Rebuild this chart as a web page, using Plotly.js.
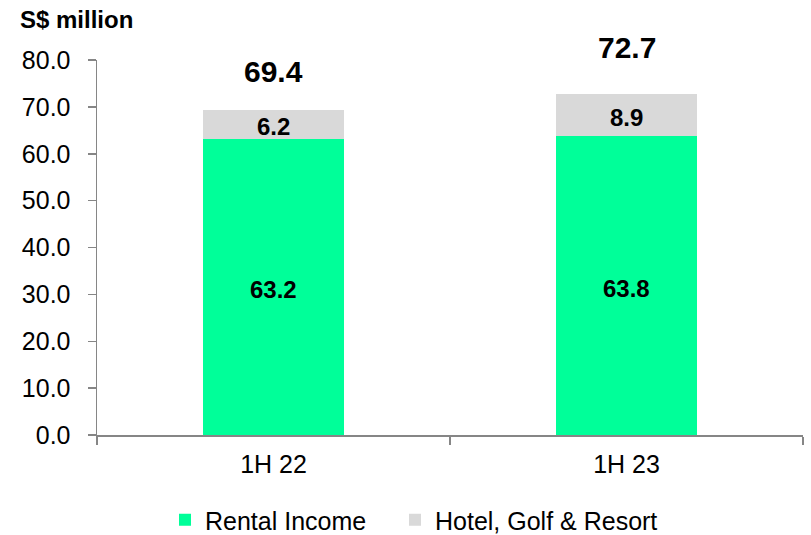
<!DOCTYPE html>
<html>
<head>
<meta charset="utf-8">
<script src="https://cdn.plot.ly/plotly-3.0.1.min.js"></script>
<style>html,body{margin:0;padding:0;background:#fff;}#chart{width:811px;height:535px;}</style>
</head>
<body>
<div id="chart"></div>
<script>
const categories = ["1H 22", "1H 23"];
const rentalIncome = [63.2, 63.8];
const hotelGolfResort = [6.2, 8.9];
const totals = [69.4, 72.7];
const seriesNames = ["Rental Income", "Hotel, Golf & Resort"];

const FONT = "Liberation Sans, Arial, sans-serif";
const axisColor = "#868686";

const traces = [
  {
    type: "bar", name: seriesNames[0], x: categories, y: rentalIncome,
    marker: {color: "#00FF99"}, width: 0.4, legend: "legend",
    hoverinfo: "none"
  },
  {
    type: "bar", name: seriesNames[1], x: categories, y: hotelGolfResort,
    marker: {color: "#D9D9D9"}, width: 0.4, legend: "legend2",
    hoverinfo: "none"
  }
];

const labelFont = {family: FONT, size: 24, color: "#000"};
const annotations = [];
categories.forEach((c, i) => {
  annotations.push({
    x: c, y: rentalIncome[i] / 2, xref: "x", yref: "y",
    text: "<b>" + rentalIncome[i].toFixed(1) + "</b>",
    showarrow: false, yanchor: "middle", yshift: -3, font: labelFont
  });
  annotations.push({
    x: c, y: rentalIncome[i] + hotelGolfResort[i] / 2, xref: "x", yref: "y",
    text: "<b>" + hotelGolfResort[i].toFixed(1) + "</b>",
    showarrow: false, yanchor: "middle", yshift: -2, font: labelFont
  });
});
const totalShifts = [38, 47];
categories.forEach((c, i) => {
  annotations.push({
    x: c, y: totals[i], xref: "x", yref: "y",
    text: "<b>" + totals[i].toFixed(1) + "</b>",
    showarrow: false, yanchor: "middle", yshift: totalShifts[i],
    font: {family: FONT, size: 30, color: "#000"}
  });
});

const legendCommon = {
  orientation: "h", xref: "container", yref: "container",
  xanchor: "left", y: 1 - 520/535, yanchor: "middle",
  font: {family: FONT, size: 25, color: "#000"}, bgcolor: "rgba(0,0,0,0)"
};

const layout = {
  width: 811, height: 535,
  margin: {l: 97, r: 8, t: 60, b: 100},
  paper_bgcolor: "#fff", plot_bgcolor: "#fff",
  barmode: "stack",
  font: {family: FONT, color: "#000"},
  title: {
    text: "<b>S$ million</b>", xref: "container", yref: "container",
    x: 20/811, xanchor: "left", y: 1 - 20/535, yanchor: "middle",
    font: {family: FONT, size: 24, color: "#000"}
  },
  xaxis: {
    type: "category", showline: true, linecolor: axisColor, linewidth: 1.5,
    ticks: "outside", tickson: "boundaries", ticklen: 8, tickcolor: axisColor, tickwidth: 1.5,
    showgrid: false, zeroline: false, automargin: false,
    tickfont: {family: FONT, size: 25, color: "#000"}, ticklabelstandoff: 6
  },
  yaxis: {
    range: [0, 80], dtick: 10, tickformat: ".1f",
    showline: true, linecolor: axisColor, linewidth: 1.5,
    ticks: "outside", ticklen: 8, tickcolor: axisColor, tickwidth: 1.5,
    showgrid: false, zeroline: false, automargin: false,
    tickfont: {family: FONT, size: 25, color: "#000"}, ticklabelstandoff: 12
  },
  showlegend: true,
  legend: Object.assign({}, legendCommon, {x: 165/811}),
  legend2: Object.assign({}, legendCommon, {x: 395/811}),
  annotations: annotations
};

Plotly.newPlot("chart", traces, layout, {displayModeBar: false, staticPlot: true});
</script>
</body>
</html>
